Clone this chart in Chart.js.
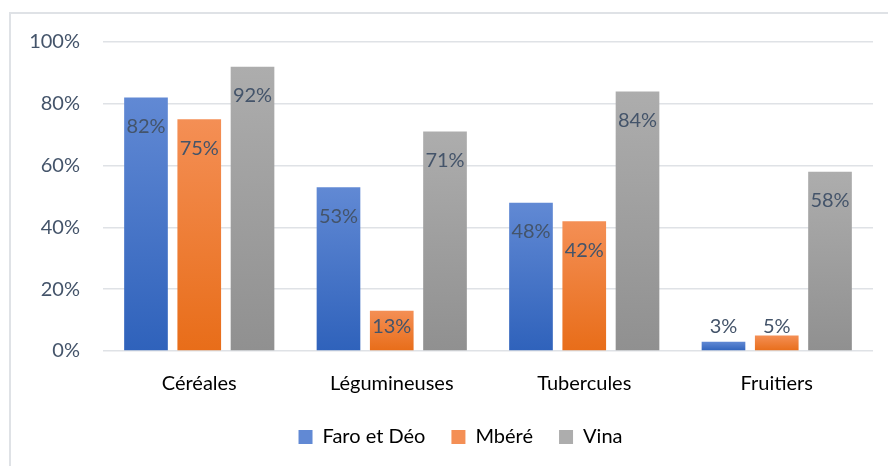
<!DOCTYPE html>
<html>
<head>
<meta charset="utf-8">
<script src="https://cdn.jsdelivr.net/npm/chart.js@4.4.1/dist/chart.umd.min.js"></script>
<style>
  html, body { margin: 0; padding: 0; background: #fff; }
  #wrap { position: relative; width: 888px; height: 466px; overflow: hidden; }
  #frame { position: absolute; left: 9px; top: 12px; width: 900px; height: 500px;
           border: 2px solid #dfe2e6; box-sizing: border-box; }
  #chart { position: absolute; left: 0; top: 0; }
</style>
</head>
<body>
<div id="wrap">
  <div id="frame"></div>
  <canvas id="chart" width="888" height="466"></canvas>
</div>
<script>
// data
var categories = ["Céréales", "Légumineuses", "Tubercules", "Fruitiers"];
var seriesNames = ["Faro et Déo", "Mbéré", "Vina"];
var faroDeo = [82, 53, 48, 3];
var mbere = [75, 13, 42, 5];
var vina = [92, 71, 84, 58];
var yTicks = [0, 20, 40, 60, 80, 100];

var fontFam = "Lato, 'Noto Sans', sans-serif";

// top colour / bottom colour of each bar
var shades = [
  ["#6189d4", "#2f62bb"],
  ["#f48f55", "#e86d19"],
  ["#adadad", "#909090"]
];

function barFill(i) {
  return function(c) {
    var chart = c.chart;
    if (!chart.chartArea || c.raw == null) return shades[i][1];
    var ys = chart.scales.y;
    var top = ys.getPixelForValue(c.raw);
    var bot = ys.getPixelForValue(0);
    var g = chart.ctx.createLinearGradient(0, top, 0, bot);
    g.addColorStop(0, shades[i][0]);
    g.addColorStop(1, shades[i][1]);
    return g;
  };
}

// value labels near the top of each bar
var valueLabels = {
  id: "valueLabels",
  afterDatasetsDraw: function(chart) {
    var ctx = chart.ctx;
    var base = chart.scales.y.getPixelForValue(0);
    ctx.save();
    ctx.font = "20px " + fontFam;
    ctx.fillStyle = "#44546a";
    ctx.textAlign = "center";
    ctx.textBaseline = "middle";
    chart.data.datasets.forEach(function(ds, i) {
      chart.getDatasetMeta(i).data.forEach(function(bar, j) {
        var y = Math.min(bar.y + 29, base - 24);
        ctx.fillText(ds.data[j] + "%", bar.x, y);
      });
    });
    ctx.restore();
  }
};

// the legend sits a little right of the canvas centre
var legendShift = {
  id: "legendShift",
  afterLayout: function(chart) {
    chart.legend.left += 19;
    chart.legend.right += 19;
  }
};

var all = [faroDeo, mbere, vina];

new Chart(document.getElementById("chart"), {
  type: "bar",
  data: {
    labels: categories,
    datasets: all.map(function(d, i) {
      return {
        label: seriesNames[i],
        data: d,
        backgroundColor: barFill(i),
        categoryPercentage: 0.83,
        barPercentage: 0.82
      };
    })
  },
  options: {
    responsive: false,
    animation: false,
    layout: { padding: { left: 10, right: 15, top: 42, bottom: 9 } },
    plugins: {
      tooltip: { enabled: false },
      legend: {
        position: "bottom",
        labels: {
          boxWidth: 14,
          boxHeight: 14,
          padding: 26,
          color: "#000",
          font: { family: fontFam, size: 20 },
          generateLabels: function(chart) {
            return seriesNames.map(function(n, i) {
              return { text: n, fillStyle: shades[i][0], strokeStyle: "transparent",
                       lineWidth: 0, datasetIndex: i, fontColor: "#000" };
            });
          }
        }
      }
    },
    scales: {
      x: {
        grid: { display: false, drawTicks: false },
        border: { display: false },
        ticks: { color: "#000", padding: 21, font: { family: fontFam, size: 20 } },
        afterFit: function(s) { s.height = 50; }
      },
      y: {
        min: 0,
        max: 100,
        afterBuildTicks: function(s) { s.ticks = yTicks.map(function(v) { return { value: v }; }); },
        grid: { color: "#dfe2e6", lineWidth: 1.5, drawTicks: false },
        border: { display: false },
        ticks: {
          color: "#44546a",
          padding: 23,
          font: { family: fontFam, size: 20 },
          callback: function(v) { return v + "%"; }
        },
        afterFit: function(s) { s.width = 93; }
      }
    }
  },
  plugins: [valueLabels, legendShift]
});
</script>
</body>
</html>
